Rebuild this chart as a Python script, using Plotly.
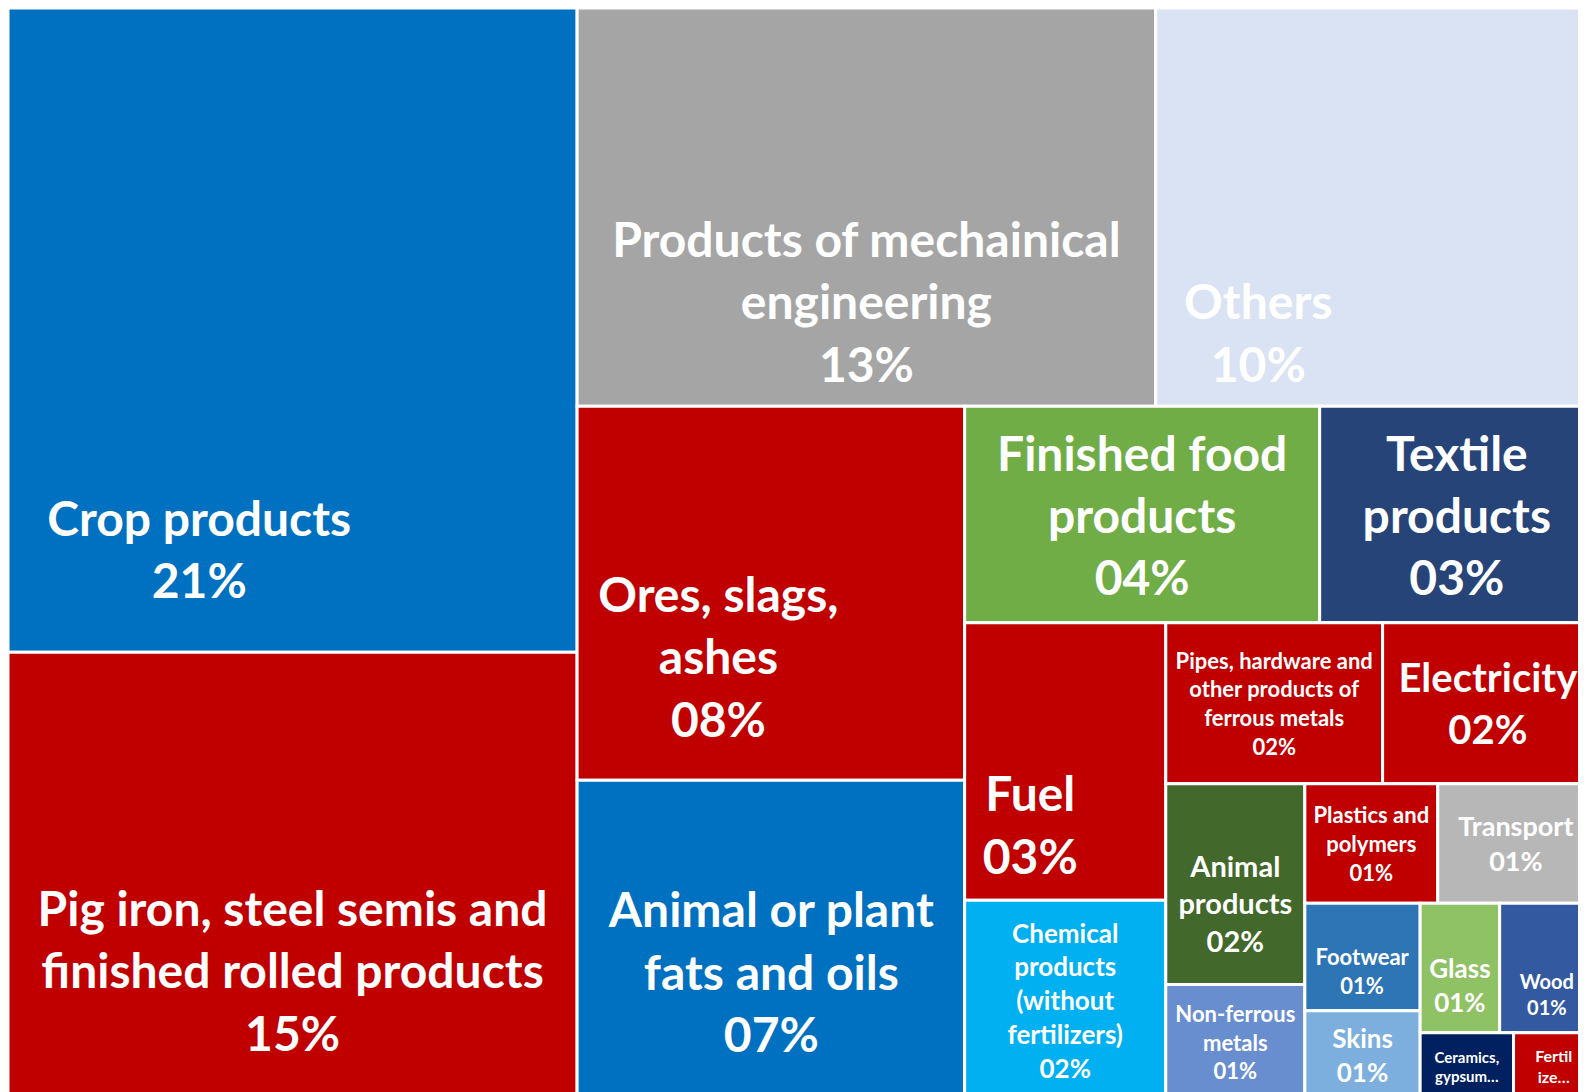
import plotly.graph_objects as go

categories = [
    "Crop products", "Pig iron, steel semis and finished rolled products",
    "Products of mechainical engineering", "Others", "Ores, slags, ashes",
    "Animal or plant fats and oils", "Finished food products", "Textile products",
    "Fuel", "Chemical products (without fertilizers)",
    "Pipes, hardware and other products of ferrous metals", "Electricity",
    "Animal products", "Non-ferrous metals", "Plastics and polymers", "Transport",
    "Footwear", "Skins", "Glass", "Wood", "Ceramics, gypsum", "Fertilizers",
]
shares = [21.0, 14.6, 13.2, 10.0, 8.3, 7.1, 4.4, 3.4, 3.2, 2.3, 2.0, 1.95,
          1.6, 0.92, 0.91, 1.07, 0.71, 0.59, 0.59, 0.70, 0.36, 0.31]
share_labels = ["21%", "15%", "13%", "10%", "08%", "07%", "04%", "03%", "03%", "02%",
                "02%", "02%", "02%", "01%", "01%", "01%", "01%", "01%", "01%", "01%",
                "", ""]
display_names = [
    "Crop products", "Pig iron, steel semis and<br>finished rolled products",
    "Products of mechainical<br>engineering", "Others", "Ores, slags,<br>ashes",
    "Animal or plant<br>fats and oils", "Finished food<br>products", "Textile<br>products",
    "Fuel", "Chemical<br>products<br>(without<br>fertilizers)",
    "Pipes, hardware and<br>other products of<br>ferrous metals", "Electricity",
    "Animal<br>products", "Non-ferrous<br>metals", "Plastics and<br>polymers", "Transport",
    "Footwear", "Skins", "Glass", "Wood", "Ceramics,<br>gypsum…", "Fertil<br>ize…",
]

# ---- styling (not data) ----
colors = ["#0070C0", "#C00000", "#A5A5A5", "#DAE3F3", "#C00000", "#0070C0", "#70AD47",
          "#264478", "#C00000", "#00B0F0", "#C00000", "#C00000", "#43682B", "#698ED0",
          "#C00000", "#B7B7B7", "#2E75B6", "#7CAFDD", "#8FC165", "#335AA1", "#002060",
          "#C00000"]
font_sizes = [48, 48, 48, 48, 48, 48, 48, 48, 48, 26, 22, 40, 29, 22, 22, 27, 22, 26,
              26, 20, 15, 16]
# blank lines above the label (Excel places labels lower in big tiles)
lead_breaks = [7, 3, 3, 4, 2, 1, 0, 0, 2, 0, 0, 0, 1, 0, 0, 0, 1, 0, 1, 2, 0, 0]
# trailing non-breaking spaces (Excel shifts some labels left)
trail_pad = [16, 0, 0, 20, 9, 0, 0, 0, 6, 0, 0, 0, 0, 0, 0, 0, 0, 0, 0, 0, 0, 0]

NB = "\u00a0"
texts = []
for n, p, k, t in zip(display_names, share_labels, lead_breaks, trail_pad):
    lines = n.split("<br>") + ([p] if p else [])
    pad = NB * t
    texts.append((NB + "<br>") * k + "<br>".join(l + pad for l in lines))

fig = go.Figure(go.Treemap(
    labels=categories,
    parents=[""] * len(categories),
    values=shares,
    text=texts,
    texttemplate="%{text}",
    textposition="middle center",
    textfont=dict(family="Lato", size=font_sizes, color="white", weight="bold"),
    marker=dict(colors=colors, line=dict(color="white", width=3), pad=dict(t=0, l=0, r=0, b=0)),
    sort=False,
    tiling=dict(packing="squarify", squarifyratio=1, pad=0),
    pathbar=dict(visible=False),
    hoverinfo="skip",
))
fig.update_layout(
    width=1586, height=1092,
    margin=dict(l=0, r=0, t=0, b=0),
    paper_bgcolor="white",
)
fig.write_html("out.html")
